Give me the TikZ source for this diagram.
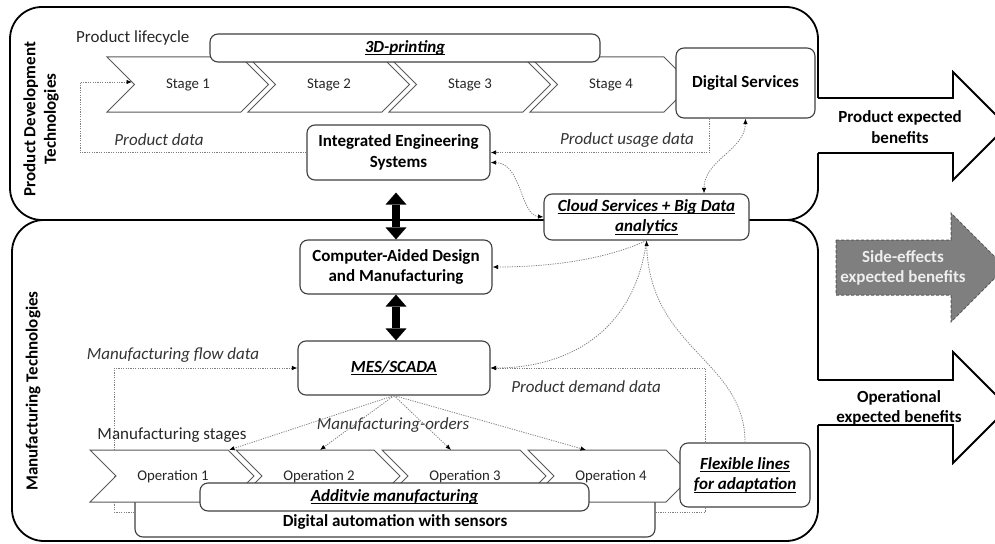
\documentclass[tikz,border=0pt]{standalone}
\usepackage{fontspec}
\setmainfont{Carlito}
\usetikzlibrary{arrows.meta}
\definecolor{boxc}{HTML}{3F3F3F}
\definecolor{chevc}{HTML}{595959}
\definecolor{dotc}{HTML}{7F7F7F}
\definecolor{labc}{HTML}{333333}
\definecolor{sidefill}{HTML}{7F7F7F}
\definecolor{sidetext}{HTML}{EEEEEE}
\newcommand{\ulx}[1]{\setbox0\hbox{#1}\rlap{\rule[-2.6pt]{\wd0}{0.9pt}}\box0}
\newcommand{\mainsize}{\fontsize{17}{20.5}\selectfont}
\newcommand{\smallsize}{\fontsize{14.8}{17}\selectfont}
\begin{document}
\begin{tikzpicture}[x=1pt,y=-1pt,
 panel/.style={draw=black,line width=1.8pt,rounded corners=32pt},
 outl/.style={draw=black,line width=1.8pt,line join=miter},
 box/.style={draw=boxc,line width=1.1pt,rounded corners=8pt,fill=white,align=center,inner sep=0pt,font=\mainsize\bfseries},
 chev/.style={draw=chevc,line width=1pt,fill=white,line join=miter},
 chevtext/.style={font=\smallsize,text=black!85,inner sep=0pt},
 plain/.style={font=\mainsize,text=black!85,inner sep=0pt},
 itl/.style={font=\mainsize\itshape,text=labc,inner sep=0pt},
 arrtext/.style={font=\mainsize\bfseries,align=center,inner sep=0pt},
 conn/.style={draw=dotc,line width=0.8pt,dash pattern=on 1.2pt off 1.2pt},
 arr/.style={-{Latex[length=5.5pt,width=4.5pt,black]}},
 arrs/.style={{Latex[length=5.5pt,width=4.5pt,black]}-{Latex[length=5.5pt,width=4.5pt,black]}},
 bigarr/.style={line width=8pt,{Triangle[length=12pt,width=21pt,line width=0pt]}-{Triangle[length=12pt,width=21pt,line width=0pt]}},
 rot/.style={rotate=90,font=\mainsize\bfseries,align=center,inner sep=0pt}
]
\useasboundingbox (0,0) rectangle (995,543);
% panels
\draw[panel] (10,7) rectangle (818,220);
\draw[panel] (12,220) rectangle (818,541);
% benefit arrows
\fill[white] (815,98) -- (953,98) -- (953,72) -- (1007,126) -- (953,180) -- (953,153) -- (815,153) -- cycle;
\draw[outl] (818,98) -- (953,98) -- (953,72) -- (1007,126) -- (953,180) -- (953,153) -- (818,153);
\fill[white] (815,380) -- (953,380) -- (953,352) -- (1008.5,407.5) -- (953,463) -- (953,425) -- (815,425) -- cycle;
\draw[outl] (818,380) -- (953,380) -- (953,352) -- (1008.5,407.5) -- (953,463) -- (953,425) -- (818,425);
\draw[draw=chevc,line width=1pt,dash pattern=on 3pt off 2pt,fill=sidefill] (836,240) -- (951,240) -- (951,213) -- (1005.5,267.5) -- (951,322) -- (951,295) -- (836,295) -- cycle;
\node[arrtext] (pb) at (900,127) {Product expected\\benefits};
\node[arrtext,text=sidetext] (sb) at (903,268) {Side-effects\\expected benefits};
\node[arrtext] (ob) at (899,408) {Operational\\expected benefits};
% panel labels
\node[rot] (pdt) at (41,119) {Product Development\\Technologies};
\node[rot] (mt) at (33,391) {Manufacturing Technologies};
% MES box (needed early)
\node[box,minimum width=192,minimum height=54] (mes) at (394,368) {\itshape\ulx{MES/SCADA}};
% bottom back box
\node[box,minimum width=520,minimum height=50] (autobox) at (395,512) {};
\draw[conn,arr] (autobox.west) -- ++(-20,0) |- (mes.west);
% stage chevrons
\foreach \i/\t in {0/Stage 1,1/Stage 2,2/Stage 3,3/Stage 4}{
  \pgfmathsetmacro\xo{107+141*\i}
  \draw[chev] (\xo,57) -- ++(134,0) -- ++(27.5,27.5) -- ++(-27.5,27.5) -- ++(-134,0) -- ++(27.5,-27.5) -- cycle;
  \node[chevtext] (stg\i) at (\xo+81,84.5) {\t};
}
% operation chevrons
\foreach \i/\t in {0/Operation 1,1/Operation 2,2/Operation 3,3/Operation 4}{
  \pgfmathsetmacro\xo{90+146*\i}
  \draw[chev] (\xo,450) -- ++(138,0) -- ++(26,26) -- ++(-26,26) -- ++(-138,0) -- ++(26,-26) -- cycle;
  \node[chevtext] (op\i) at (\xo+83,477) {\t};
}
\node[box,minimum width=390,minimum height=28] (print) at (405,48) {\itshape\ulx{3D-printing}};
\node[box,minimum width=389,minimum height=28] (addm) at (394.5,497) {\itshape\ulx{Additvie manufacturing}};
\node[font=\mainsize\bfseries,inner sep=0pt] (autotext) at (395,522) {Digital automation with sensors};
% texts
\node[plain,anchor=west] (plc) at (76,38) {Product lifecycle};
\node[plain] (mst) at (172,435) {Manufacturing stages};
\node[itl] (pdata) at (159,140) {Product data};
\node[itl] (pudata) at (627,140) {Product usage data};
\node[itl] (mfd) at (173,355) {Manufacturing flow data};
\node[itl] (pdd) at (586,387) {Product demand data};
\node[itl] (mo) at (393,425) {Manufacturing-orders};
% main boxes
\node[box,minimum width=139,minimum height=70] (ds) at (745.5,83) {Digital Services};
\node[box,minimum width=183,minimum height=55] (ies) at (398.5,152.5) {Integrated Engineering\\Systems};
\node[box,minimum width=205,minimum height=46] (cloud) at (646.5,217) {\itshape\ulx{Cloud Services + Big Data}\\\itshape\ulx{analytics}};
\node[box,minimum width=192,minimum height=54] (cad) at (396,267) {Computer-Aided Design\\and Manufacturing};
% coordinates
\coordinate (s1in) at (132,82);
\path (ds.south west) ++(34,0) coordinate (dsu);
\path (ies.east) ++(0,10) coordinate (iesR);
\path (cloud.north) ++(57.5,0) coordinate (cloudT);
\coordinate (mo1) at (229,450);
\coordinate (mo2) at (320,450);
\coordinate (mo3) at (451,450);
\coordinate (mo4) at (586,450);
% connectors top
\draw[conn,arr] (ies.west) -| (80,82) -- (s1in);
\draw[conn,arr] (dsu) |- (ies.east);
\draw[conn,arrs] (iesR) .. controls (522,163) and (520,215) .. (cloud.west);
\draw[conn,arrs] (ds.south) .. controls (745,150) and (704,160) .. (cloudT);
\draw[conn,arr] (cloud.south) .. controls (600,262) and (540,267) .. (cad.east);
\draw[conn,arr] (cloud.south) .. controls (635,330) and (570,368) .. (mes.east);
% connectors bottom
\draw[conn,arr] (autobox.east) -- ++(50,0) |- (mes.east);
\foreach \k in {1,...,4}{\draw[conn,arr] (mes.south) -- (mo\k);}
\node[box,minimum width=130,minimum height=64] (flex) at (745,475) {\itshape\ulx{Flexible lines}\\\itshape\ulx{for adaptation}};
\draw[conn,arr] (flex.north) .. controls (745,360) and (650,350) .. (cloud.south);
% big arrows
\draw[bigarr,shorten <=12pt] (cad.north |- ies.south) -- (cad.north);
\draw[bigarr] (cad.south) -- (cad.south |- mes.north);
\end{tikzpicture}
\end{document}
